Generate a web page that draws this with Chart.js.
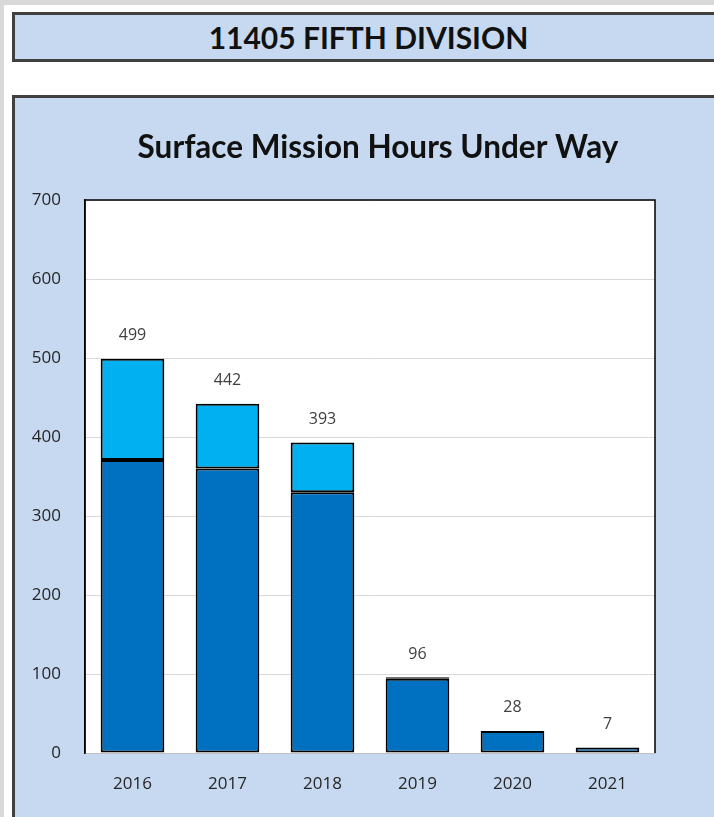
<!DOCTYPE html>
<html>
<head>
<meta charset="utf-8">
<script src="https://cdn.jsdelivr.net/npm/chart.js@4/dist/chart.umd.min.js"></script>
<style>
  html, body { margin: 0; padding: 0; width: 714px; height: 817px; overflow: hidden; background: #d9d9d9; }
  #page { position: absolute; left: 4px; top: 5px; width: 720px; height: 820px; background: #ffffff; }
  .box { position: absolute; background: #c6d9f0; border: 3px solid #404040; box-sizing: border-box; }
  #header { left: 12px; top: 12px; width: 740px; height: 50px; }
  #header span { position: absolute; left: 0; width: 707px; top: 0; height: 44px; line-height: 44px; text-align: center;
    font-family: Lato, sans-serif; font-weight: bold; font-size: 30px; color: #111; }
  #panel { left: 12px; top: 95px; width: 740px; height: 760px; }
  #wrap { position: absolute; left: 0; top: 0; width: 714px; height: 817px; }
</style>
</head>
<body>
<div id="page"></div>
<div id="header" class="box"><span>11405 FIFTH DIVISION</span></div>
<div id="panel" class="box"></div>
<div id="wrap"><canvas id="c" width="714" height="817"></canvas></div>
<script>
const years = ['2016', '2017', '2018', '2019', '2020', '2021'];
const darkHours = [371, 360, 330, 94, 28, 7];
const lightHours = [128, 82, 63, 2, null, null];
const yTicks = [0, 100, 200, 300, 400, 500, 600, 700];
const chartTitle = 'Surface Mission Hours Under Way';

const plotDecor = {
  id: 'plotDecor',
  beforeDraw(chart) {
    const a = chart.chartArea, ctx = chart.ctx;
    ctx.save();
    ctx.fillStyle = '#ffffff';
    ctx.fillRect(a.left, a.top, a.right - a.left, a.bottom - a.top);
    ctx.restore();
  },
  afterDraw(chart) {
    const a = chart.chartArea, ctx = chart.ctx;
    ctx.save();
    ctx.strokeStyle = '#000000';
    ctx.lineWidth = 1.5;
    ctx.beginPath();
    ctx.moveTo(a.left, a.bottom);
    ctx.lineTo(a.left, a.top);
    ctx.lineTo(a.right, a.top);
    ctx.lineTo(a.right, a.bottom);
    ctx.stroke();
    // chart title, centred on the panel
    ctx.font = 'bold 31.5px Lato, sans-serif';
    ctx.fillStyle = '#111111';
    ctx.textAlign = 'center';
    ctx.textBaseline = 'middle';
    ctx.fillText(chartTitle, 378, 148);
    ctx.restore();
  }
};

const totalLabels = {
  id: 'totalLabels',
  afterDatasetsDraw(chart) {
    const ctx = chart.ctx, y = chart.scales.y;
    const meta = chart.getDatasetMeta(0);
    ctx.save();
    ctx.font = '16px "Open Sans", sans-serif';
    ctx.fillStyle = '#404040';
    ctx.textAlign = 'center';
    ctx.textBaseline = 'middle';
    years.forEach((yr, i) => {
      const total = (darkHours[i] || 0) + (lightHours[i] || 0);
      const x = meta.data[i].x;
      ctx.fillText(String(total), x, y.getPixelForValue(total) - 23);
    });
    ctx.restore();
  }
};

new Chart(document.getElementById('c'), {
  type: 'bar',
  data: {
    labels: years,
    datasets: [
      { label: 'Hours A', data: darkHours, backgroundColor: '#0070c0', borderColor: '#000000', borderWidth: 2, borderSkipped: false,
        categoryPercentage: 1, barPercentage: 0.67 },
      { label: 'Hours B', data: lightHours, backgroundColor: '#00b0f0', borderColor: '#000000', borderWidth: 2, borderSkipped: false,
        categoryPercentage: 1, barPercentage: 0.67 }
    ]
  },
  options: {
    responsive: false,
    animation: false,
    layout: { padding: { left: 14, right: 59, top: 200, bottom: 0 } },
    plugins: {
      legend: { display: false },
      tooltip: { enabled: false },
      title: { display: false }
    },
    scales: {
      x: {
        stacked: true,
        grid: { display: false, drawTicks: false },
        border: { color: '#bfbfbf', width: 1 },
        ticks: { color: '#262626', font: { family: '"Open Sans", sans-serif', size: 17 }, padding: 21 },
        afterFit(s) { s.height = 64; }
      },
      y: {
        stacked: true, min: 0, max: 700,
        afterBuildTicks(s) { s.ticks = yTicks.map(v => ({ value: v })); },
        grid: { color: '#d9d9d9', drawTicks: false, lineWidth: 1 },
        border: { color: '#000000', width: 1.5 },
        ticks: { color: '#262626', font: { family: '"Open Sans", sans-serif', size: 17 }, padding: 24 },
        afterFit(s) { s.width = 71; }
      }
    }
  },
  plugins: [plotDecor, totalLabels]
});
</script>
</body>
</html>
